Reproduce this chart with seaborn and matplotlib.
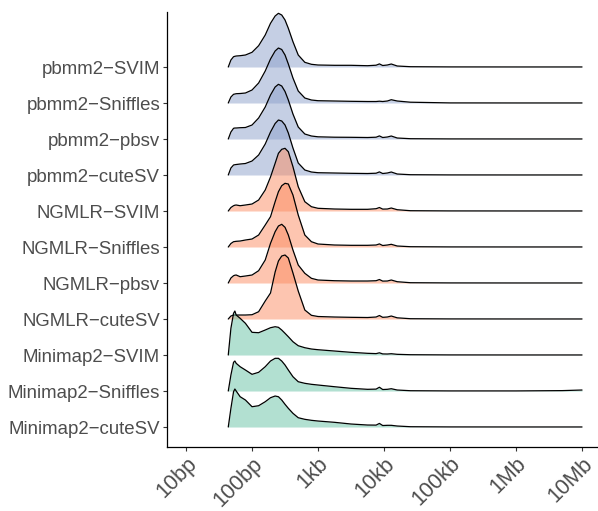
import matplotlib
matplotlib.use("Agg")
import numpy as np
import pandas as pd
import matplotlib.pyplot as plt
import seaborn as sns

# ---------------------------------------------------------------------------
# SV length density profiles (log10 of length in bp), one list per pipeline.
# Heights are density values scaled so that one ridge row spans 36 units.
# ---------------------------------------------------------------------------
log10_length = [1.64, 1.68, 1.72, 1.74, 1.76, 1.82, 1.90, 2.00, 2.10, 2.20,
                2.28, 2.35, 2.40, 2.45, 2.50, 2.55, 2.62, 2.70, 2.80, 2.90,
                3.00, 3.25, 3.50, 3.75, 3.88, 3.93, 3.98, 4.05, 4.11, 4.20,
                4.40, 5.00, 6.00, 6.70, 7.00]

pbmm2_svim = [0, 7, 10.3, 10.7, 11, 11.3, 12, 14.7, 21.3, 32,
              43.7, 51, 53.7, 52, 47, 38.7, 25.3, 12, 4.7, 2.7,
              2, 1.7, 1.7, 1.3, 1.8, 3.1, 1.5, 2, 3, 1,
              0.3, 0.1, 0.05, 0.05, 0.05]
pbmm2_sniffles = [0, 6, 8.7, 9, 9.3, 9.5, 10, 13, 20, 32,
                  44, 52, 55, 53.5, 48, 39, 25, 12, 5, 3,
                  2.3, 2, 1.7, 1.5, 1.5, 1.8, 1.5, 2, 3.3, 2,
                  0.8, 0.1, 0.05, 0.05, 0.05]
pbmm2_pbsv = [0, 7, 10.7, 11, 11, 11.3, 11.5, 14, 21, 32,
              44, 52, 54.7, 53, 47.5, 39, 25, 12, 5, 3,
              2.2, 1.8, 1.7, 1.5, 1.8, 3.1, 1.5, 2, 3, 1,
              0.3, 0.1, 0.05, 0.05, 0.05]
pbmm2_cutesv = [0, 7, 10, 10.3, 10.5, 11, 11.5, 14, 20, 31,
                43, 51.5, 55, 54, 50, 42, 27, 12, 5, 3,
                2.3, 2, 1.7, 1.5, 1.8, 3.1, 1.5, 2, 3, 1,
                0.3, 0.1, 0.05, 0.05, 0.05]
ngmlr_svim = [0, 3.5, 5.3, 5.8, 6, 5.3, 6, 7, 11, 21,
              34, 47.7, 57.7, 61.7, 62.7, 59.3, 44.3, 24.3, 9.3, 4.3,
              2.7, 2, 1.7, 1.7, 2.3, 3.5, 1.9, 2, 3, 1.3,
              0.3, 0.1, 0.05, 0.05, 0.05]
ngmlr_sniffles = [0, 3.5, 5.3, 5.5, 5.7, 6, 7, 8, 12, 22,
                  30.3, 45.3, 55.3, 61.3, 63.7, 63, 52, 32, 12, 5.3,
                  3, 2, 1.7, 1.7, 2, 3.1, 1.5, 2, 2.7, 1,
                  0.3, 0.1, 0.05, 0.05, 0.05]
ngmlr_pbsv = [0, 5, 7.3, 7.8, 8, 6.3, 7, 8, 12.3, 23,
              39.7, 51.3, 57, 58.7, 55.7, 48, 33, 18, 9.7, 4.7,
              3, 2.3, 2, 2, 2.3, 3.5, 1.9, 2, 3, 1.3,
              0.3, 0.1, 0.05, 0.05, 0.05]
ngmlr_cutesv = [0, 3, 4, 4, 4, 4, 4, 4.3, 7.3, 18,
                26, 47, 58, 63, 64, 61, 46, 28, 9, 3.7,
                2.5, 2, 1.7, 1.5, 2, 3.5, 1.7, 2, 3, 1.2,
                0.3, 0.1, 0.05, 0.05, 0.05]
minimap2_svim = [0, 26.7, 41.7, 44, 40, 36.7, 31.7, 22.7, 22.3, 25,
                 27.3, 28.3, 27.7, 25, 21.7, 18.3, 13.3, 9.3, 7.3, 6,
                 5.3, 4, 2.7, 1.7, 1.4, 2.2, 1.1, 1, 1.3, 0.7,
                 0.3, 0.1, 0.05, 0.05, 0.05]
minimap2_sniffles = [0, 16, 28.7, 30, 27.7, 24.3, 21, 16.7, 18.7, 24.3,
                     30, 32.7, 32.7, 30, 26, 21, 14.3, 9.3, 7.7, 6.7,
                     6, 4.3, 2.7, 1.7, 1.9, 3.8, 1.5, 1.7, 2.3, 1,
                     0.3, 0.1, 0.1, 0.4, 1.0]
minimap2_cutesv = [0, 18.7, 35.3, 38, 36, 30.3, 27, 20.3, 21.3, 25.3,
                   29.3, 31, 30.3, 27, 22.7, 18.7, 13.7, 9.3, 7.7, 6.7,
                   6, 4.7, 3, 2, 1.9, 3.6, 1.5, 1.7, 1.7, 1,
                   0.3, 0.1, 0.05, 0.05, 0.05]

# Ridge order from bottom to top
pipelines = ["Minimap2-cuteSV", "Minimap2-Sniffles", "Minimap2-SVIM",
             "NGMLR-cuteSV", "NGMLR-pbsv", "NGMLR-Sniffles", "NGMLR-SVIM",
             "pbmm2-cuteSV", "pbmm2-pbsv", "pbmm2-Sniffles", "pbmm2-SVIM"]
profiles = [minimap2_cutesv, minimap2_sniffles, minimap2_svim,
            ngmlr_cutesv, ngmlr_pbsv, ngmlr_sniffles, ngmlr_svim,
            pbmm2_cutesv, pbmm2_pbsv, pbmm2_sniffles, pbmm2_svim]
aligners = ["Minimap2", "NGMLR", "pbmm2"]

tick_values = [10, 100, 1e3, 1e4, 1e5, 1e6, 1e7]
tick_labels = ["10bp", "100bp", "1kb", "10kb", "100kb", "1Mb", "10Mb"]

# Long-form table
rows = []
for name, dens in zip(pipelines, profiles):
    for lg, d in zip(log10_length, dens):
        rows.append({"pipeline": name, "aligner": name.split("-")[0],
                     "length": 10 ** lg, "density": d})
df = pd.DataFrame(rows)

# ---------------------------------------------------------------------------
sns.set_theme(style="ticks")
plt.rcParams["font.family"] = ["Liberation Sans", "DejaVu Sans"]

ROW_STEP = 36.0
palette = dict(zip(aligners, sns.color_palette("Set2", 3)))
text_grey = "#4D4D4D"

fig = plt.figure(figsize=(5.98, 5.11), dpi=100)
ax = fig.add_axes([0.2793, 0.1252, 0.7207, 0.8513])

n = len(pipelines)
# upper ridges first so lower ones overlap them
for i in range(n - 1, -1, -1):
    name = pipelines[i]
    sub = df[df["pipeline"] == name]
    base = i * ROW_STEP
    color = palette[sub["aligner"].iloc[0]]
    z = 2 + (n - i) * 2
    ax.fill_between(sub["length"], base, base + sub["density"],
                    color=color, alpha=0.5, linewidth=0, zorder=z)
    sns.lineplot(x=sub["length"].to_numpy(), y=(base + sub["density"]).to_numpy(),
                 ax=ax, color="black", linewidth=0.9, sort=False,
                 estimator=None, legend=False, zorder=z + 1)

ax.set_xscale("log")
ax.set_xlim(10 ** 0.712, 10 ** 7.242)
ax.set_ylim(-20, 415)
ax.set_xticks(tick_values)
ax.set_xticklabels(tick_labels)
ax.xaxis.set_minor_locator(matplotlib.ticker.NullLocator())
ax.set_yticks([i * ROW_STEP for i in range(n)])
ax.set_yticklabels([p.replace("-", "\u2212") for p in pipelines])

for lab in ax.get_xticklabels():
    lab.set_rotation(45)
    lab.set_ha("right")
    lab.set_va("top")
    lab.set_rotation_mode("anchor")
    lab.set_fontsize(15.5)
    lab.set_color(text_grey)
for lab in ax.get_yticklabels():
    lab.set_fontsize(13.4)
    lab.set_color(text_grey)

ax.tick_params(axis="both", length=3, width=0.8, color="#333333", pad=2)
ax.tick_params(axis="x", pad=1.5)
sns.despine(ax=ax)
for side in ("left", "bottom"):
    ax.spines[side].set_linewidth(0.9)
    ax.spines[side].set_color("black")
ax.set_xlabel("")
ax.set_ylabel("")

fig.savefig("out.png", dpi=100)
